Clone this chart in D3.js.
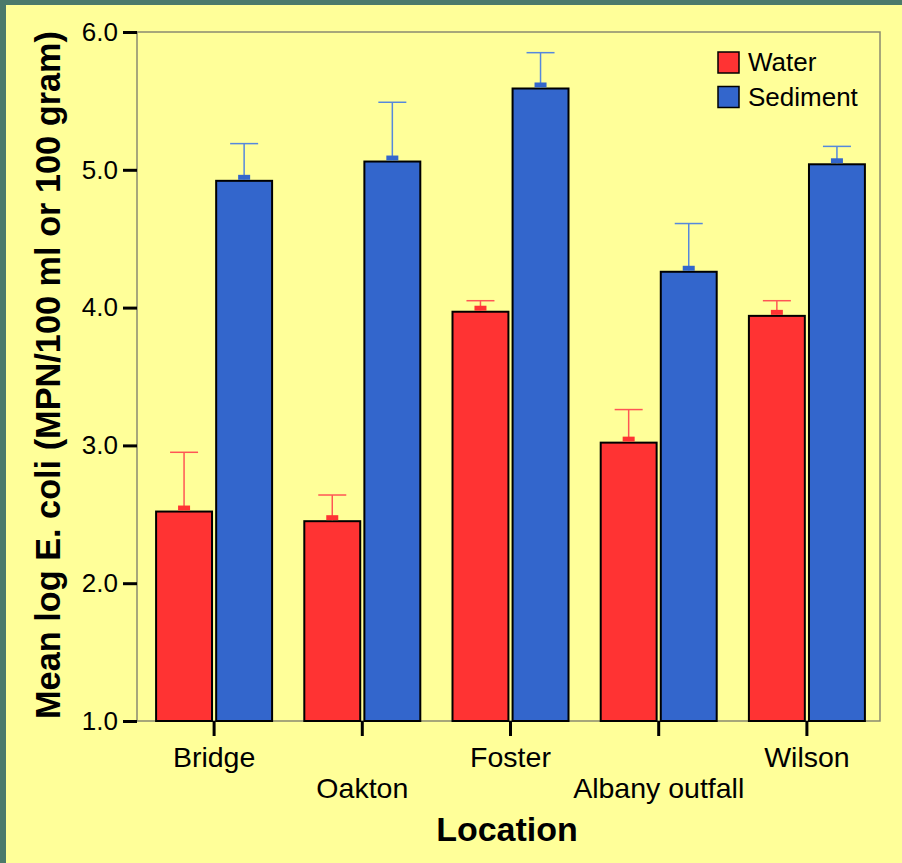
<!DOCTYPE html>
<html>
<head>
<meta charset="utf-8">
<script src="https://cdn.jsdelivr.net/npm/d3@7"></script>
<style>
  body { margin: 0; background: #ffff99; }
  svg { display: block; font-family: "Liberation Sans", Arial, sans-serif; }
</style>
</head>
<body>
<svg id="chart" width="902" height="863"></svg>
<script>
// values
var locations = ["Bridge", "Oakton", "Foster", "Albany outfall", "Wilson"];
var waterMean = [2.52, 2.45, 3.97, 3.02, 3.94];
var waterUpper = [2.95, 2.64, 4.05, 3.26, 4.05];
var sedimentMean = [4.92, 5.06, 5.59, 4.26, 5.04];
var sedimentUpper = [5.19, 5.49, 5.85, 4.61, 5.17];
var yTicks = [1, 2, 3, 4, 5, 6];
var seriesNames = ["Water", "Sediment"];
var seriesColors = ["#ff3333", "#3366cc"];
var errColors = ["#ff5555", "#5588dd"];

var svg = d3.select("#chart");

// page + green frame
svg.append("rect").attr("width", 902).attr("height", 863).attr("fill", "#ffff99");
svg.append("rect").attr("x", 0).attr("y", 0).attr("width", 902).attr("height", 5).attr("fill", "#4b7a6b");
svg.append("rect").attr("x", 0).attr("y", 0).attr("width", 6).attr("height", 863).attr("fill", "#4b7a6b");

var plotL = 137, plotR = 880, plotT = 32, plotB = 721;

var y = d3.scaleLinear().domain([1, 6]).range([plotB, plotT]);
var x = d3.scaleBand().domain(locations).range([140, 881]);
var sub = d3.scaleBand().domain(seriesNames).range([-58, 58]).paddingInner(8 / 116);

// plot frame
svg.append("rect")
  .attr("x", plotL).attr("y", plotT)
  .attr("width", plotR - plotL).attr("height", plotB - plotT)
  .attr("fill", "none").attr("stroke", "#8a8a70").attr("stroke-width", 1.5);

function center(d) { return x(d) + x.bandwidth() / 2; }

var series = [
  { name: "Water", mean: waterMean, upper: waterUpper, i: 0 },
  { name: "Sediment", mean: sedimentMean, upper: sedimentUpper, i: 1 }
];

series.forEach(function(s){
  var g = svg.append("g");
  var rows = locations.map(function(loc, k){
    return { loc: loc, mean: s.mean[k], upper: s.upper[k] };
  });
  var bw = sub.bandwidth();
  var mid = function(d){ return center(d.loc) + sub(s.name) + bw / 2; };

  g.selectAll("rect.bar")
    .data(rows)
    .enter()
    .append("rect")
    .attr("class", "bar")
    .attr("x", function(d){ return center(d.loc) + sub(s.name); })
    .attr("y", function(d){ return y(d.mean); })
    .attr("width", bw)
    .attr("height", function(d){ return y(1) - y(d.mean); })
    .attr("fill", seriesColors[s.i])
    .attr("stroke", "#000")
    .attr("stroke-width", 2);

  // error line
  g.selectAll("line.err")
    .data(rows)
    .enter()
    .append("line")
    .attr("class", "err")
    .attr("x1", mid).attr("x2", mid)
    .attr("y1", function(d){ return y(d.mean) - 1; })
    .attr("y2", function(d){ return y(d.upper); })
    .attr("stroke", errColors[s.i])
    .attr("stroke-width", 1.5);

  // cap
  g.selectAll("line.cap")
    .data(rows)
    .enter()
    .append("line")
    .attr("class", "cap")
    .attr("x1", function(d){ return mid(d) - 14; })
    .attr("x2", function(d){ return mid(d) + 14; })
    .attr("y1", function(d){ return y(d.upper); })
    .attr("y2", function(d){ return y(d.upper); })
    .attr("stroke", errColors[s.i])
    .attr("stroke-width", 1.5);

  // mean marker
  g.selectAll("rect.mark")
    .data(rows)
    .enter()
    .append("rect")
    .attr("class", "mark")
    .attr("x", function(d){ return mid(d) - 6; })
    .attr("y", function(d){ return y(d.mean) - 6; })
    .attr("width", 12)
    .attr("height", 5)
    .attr("fill", seriesColors[s.i]);
});

// y axis
var yAxis = svg.append("g")
  .attr("transform", "translate(" + plotL + ",0)")
  .call(d3.axisLeft(y).tickValues(yTicks).tickFormat(d3.format(".1f")).tickSize(14).tickPadding(5));
yAxis.select(".domain").remove();
yAxis.selectAll(".tick line").attr("stroke", "#000").attr("stroke-width", 3);
yAxis.selectAll(".tick text")
  .attr("font-size", 26).attr("fill", "#000")
  .attr("font-family", "Liberation Sans, Arial, sans-serif");

// x axis
var xAxis = svg.append("g")
  .attr("transform", "translate(0," + plotB + ")")
  .call(d3.axisBottom(x).tickSize(15).tickPadding(0));
xAxis.select(".domain").remove();
xAxis.selectAll(".tick line").attr("stroke", "#000").attr("stroke-width", 3);
xAxis.selectAll(".tick text")
  .attr("font-size", 28.5).attr("fill", "#000")
  .attr("font-family", "Liberation Sans, Arial, sans-serif")
  .attr("dy", null)
  .attr("y", function(d, i){ return i % 2 ? 77 : 46; });

// axis titles
svg.append("text")
  .attr("x", 507).attr("y", 841)
  .attr("text-anchor", "middle")
  .attr("font-size", 34).attr("font-weight", "bold")
  .text("Location");

svg.append("text")
  .attr("transform", "translate(60,375) rotate(-90)")
  .attr("text-anchor", "middle")
  .attr("font-size", 34.3).attr("font-weight", "bold")
  .text("Mean log E. coli (MPN/100 ml or 100 gram)");

// legend
var legend = svg.append("g");
legend.selectAll("rect")
  .data(seriesNames)
  .enter()
  .append("rect")
  .attr("x", 718)
  .attr("y", function(d, i){ return 52 + i * 34.5; })
  .attr("width", 21).attr("height", 21)
  .attr("fill", function(d, i){ return seriesColors[i]; })
  .attr("stroke", "#000").attr("stroke-width", 1.5);
legend.selectAll("text")
  .data(seriesNames)
  .enter()
  .append("text")
  .attr("x", 748)
  .attr("y", function(d, i){ return 71 + i * 34.5; })
  .attr("font-size", 26)
  .text(function(d){ return d; });
</script>
</body>
</html>
